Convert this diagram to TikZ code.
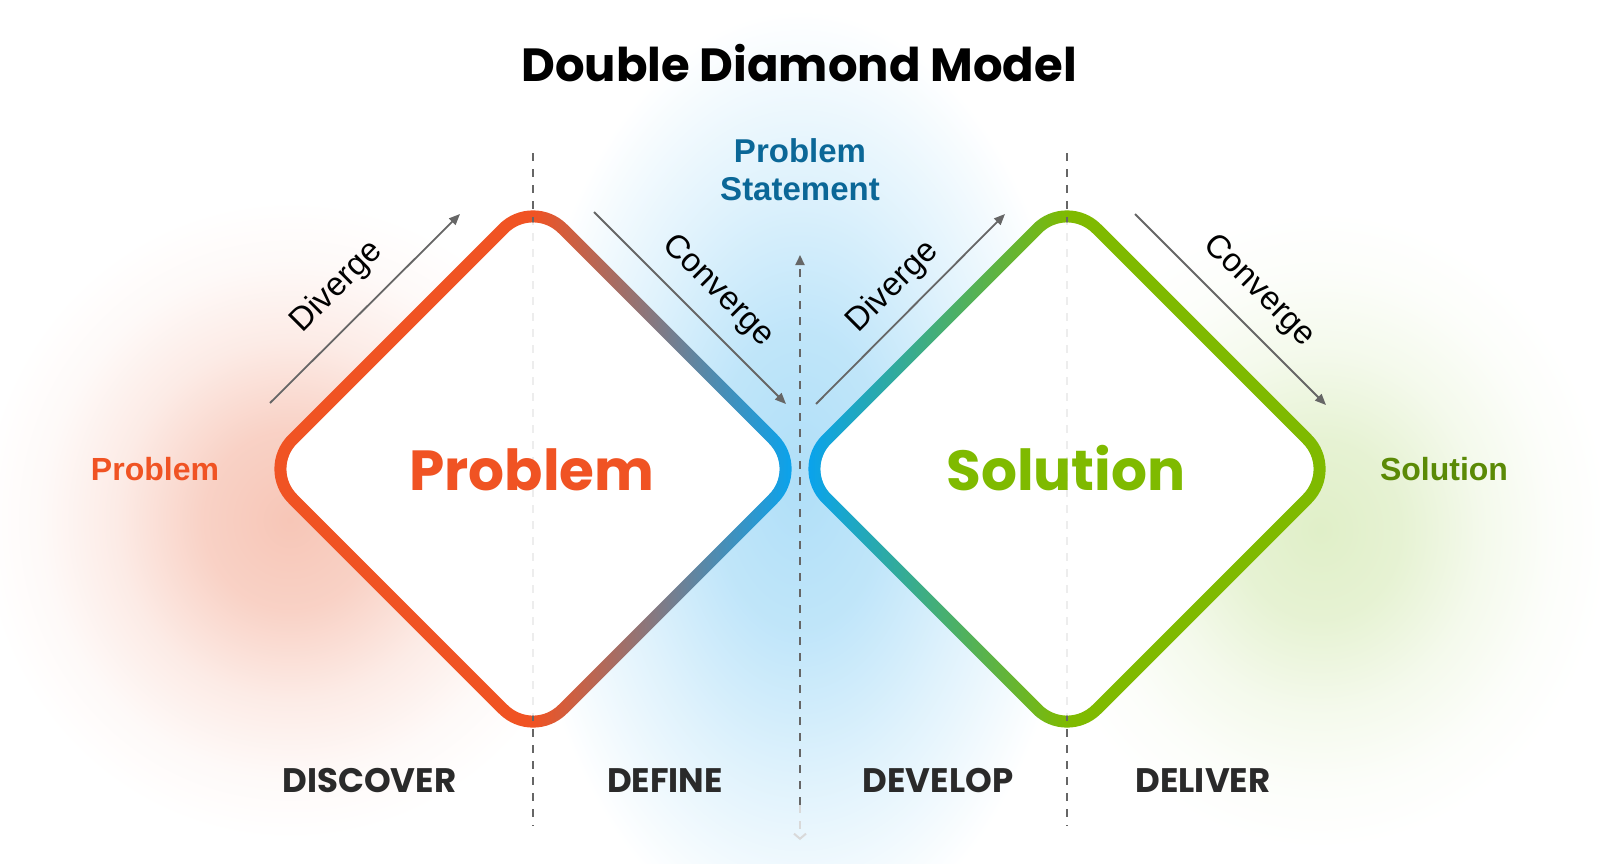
\documentclass[tikz,border=0pt]{standalone}
\usepackage{fontspec}
\setmainfont{Liberation Sans}
\newfontfamily\pop{Poppins}
\usetikzlibrary{arrows.meta}

\definecolor{orng}{HTML}{F05323}
\definecolor{sky}{HTML}{0AA3EC}
\definecolor{lime}{HTML}{7FBA00}
\definecolor{solgreen}{HTML}{5B8A06}
\definecolor{psblue}{HTML}{0B6797}
\definecolor{darktxt}{HTML}{2A2A2A}
\definecolor{linegray}{HTML}{666666}
\definecolor{glowred}{HTML}{F7C6B7}
\definecolor{glowblue}{HTML}{B0DFF8}
\definecolor{glowgreen}{HTML}{E0EFC8}

\pgfdeclareradialshading{glowR}{\pgfpoint{0bp}{0bp}}{color(0bp)=(glowred); color(7bp)=(glowred!80!white); color(14bp)=(glowred!35!white); color(20bp)=(glowred!10!white); color(25bp)=(white); color(50bp)=(white)}
\pgfdeclareradialshading{glowB}{\pgfpoint{0bp}{0bp}}{color(0bp)=(glowblue); color(8bp)=(glowblue!80!white); color(16bp)=(glowblue!40!white); color(25bp)=(white); color(50bp)=(white)}
\pgfdeclareradialshading{glowG}{\pgfpoint{0bp}{0bp}}{color(0bp)=(glowgreen); color(7bp)=(glowgreen!80!white); color(14bp)=(glowgreen!35!white); color(20bp)=(glowgreen!10!white); color(25bp)=(white); color(50bp)=(white)}

% rounded diamond: centre x, centre y, half diagonal, corner radius (clockwise on screen)
\newcommand{\rdia}[4]{(#1-#3/2,#2-#3/2)
 -- (#1-#4*0.7071,#2-#3+#4*0.7071) .. controls (#1-#4*0.3166,#2-#3+#4*0.3166) and (#1+#4*0.3166,#2-#3+#4*0.3166) .. (#1+#4*0.7071,#2-#3+#4*0.7071)
 -- (#1+#3-#4*0.7071,#2-#4*0.7071) .. controls (#1+#3-#4*0.3166,#2-#4*0.3166) and (#1+#3-#4*0.3166,#2+#4*0.3166) .. (#1+#3-#4*0.7071,#2+#4*0.7071)
 -- (#1+#4*0.7071,#2+#3-#4*0.7071) .. controls (#1+#4*0.3166,#2+#3-#4*0.3166) and (#1-#4*0.3166,#2+#3-#4*0.3166) .. (#1-#4*0.7071,#2+#3-#4*0.7071)
 -- (#1-#3+#4*0.7071,#2+#4*0.7071) .. controls (#1-#3+#4*0.3166,#2+#4*0.3166) and (#1-#3+#4*0.3166,#2-#4*0.3166) .. (#1-#3+#4*0.7071,#2-#4*0.7071)
 -- cycle}
% same, opposite direction
\newcommand{\rdiarev}[4]{(#1-#3/2,#2-#3/2)
 -- (#1-#3+#4*0.7071,#2-#4*0.7071) .. controls (#1-#3+#4*0.3166,#2-#4*0.3166) and (#1-#3+#4*0.3166,#2+#4*0.3166) .. (#1-#3+#4*0.7071,#2+#4*0.7071)
 -- (#1-#4*0.7071,#2+#3-#4*0.7071) .. controls (#1-#4*0.3166,#2+#3-#4*0.3166) and (#1+#4*0.3166,#2+#3-#4*0.3166) .. (#1+#4*0.7071,#2+#3-#4*0.7071)
 -- (#1+#3-#4*0.7071,#2+#4*0.7071) .. controls (#1+#3-#4*0.3166,#2+#4*0.3166) and (#1+#3-#4*0.3166,#2-#4*0.3166) .. (#1+#3-#4*0.7071,#2-#4*0.7071)
 -- (#1+#4*0.7071,#2-#3+#4*0.7071) .. controls (#1+#4*0.3166,#2-#3+#4*0.3166) and (#1-#4*0.3166,#2-#3+#4*0.3166) .. (#1-#4*0.7071,#2-#3+#4*0.7071)
 -- cycle}

\tikzset{
  titletxt/.style={font=\pop\bfseries\fontsize{46.5}{56}\selectfont, text=black, anchor=base, inner sep=0pt},
  bigtxt/.style={font=\pop\bfseries\fontsize{56.5}{66}\selectfont, anchor=base, inner sep=0pt},
  sidetxt/.style={font=\bfseries\fontsize{32}{38}\selectfont, anchor=base, inner sep=0pt},
  phasetxt/.style={font=\pop\bfseries\fontsize{34}{40}\selectfont, text=darktxt, anchor=base, inner sep=0pt},
  flowtxt/.style={font=\fontsize{33}{38}\selectfont, text=black, inner sep=0pt},
  flow/.style={draw=linegray, line width=1.8pt, -{Triangle[length=11pt,width=9pt]}},
  dashline/.style={line width=2pt, dash pattern=on 8pt off 8pt},
}

\begin{document}
\begin{tikzpicture}[x=1pt,y=-1pt]
\useasboundingbox (0,0) rectangle (1600,864);
\fill[white] (0,0) rectangle (1600,864);

% background glows
\begin{scope}[blend mode=multiply]
  \shade[shading=glowR] (290,520) ellipse (310 and 320);
  \shade[shading=glowB] (800,480) ellipse (280 and 470);
  \shade[shading=glowG] (1320,530) ellipse (290 and 320);
\end{scope}

% guide coordinates
\coordinate (g1t) at (533,153); \coordinate (g1b) at (533,826);
\coordinate (g2t) at (1067,153); \coordinate (g2b) at (1067,826);
\coordinate (cmt) at (800,255); \coordinate (cmm) at (800,805); \coordinate (cmb) at (800,840);

% dashed guides
\draw[dashline, linegray] (g1t) -- (g1b);
\draw[dashline, linegray] (g2t) -- (g2b);

% diamond interiors, with the guides showing faintly through
\fill[white] \rdia{533}{469}{261.5}{36};
\fill[white] \rdia{1067}{469}{261.5}{36};
\begin{scope}
  \clip \rdia{533}{469}{262}{36};
  \draw[dashline, linegray!12] (g1t) -- (g1b);
\end{scope}
\begin{scope}
  \clip \rdia{1067}{469}{262}{36};
  \draw[dashline, linegray!12] (g2t) -- (g2b);
\end{scope}

% diamond 1 stroke (gradient)
\begin{scope}
  \clip \rdia{533}{469}{278.5}{48} \rdiarev{533}{469}{261.5}{36};
  \fill[orng] (230,170) rectangle (533,770);
  \shade[left color=orng, right color=sky] (533,170) rectangle (792,770);
  \draw[dashline, linegray] (g1t) -- (g1b);
\end{scope}
% diamond 2 stroke (gradient)
\begin{scope}
  \clip \rdia{1067}{469}{278.5}{48} \rdiarev{1067}{469}{261.5}{36};
  \fill[sky] (790,170) rectangle (809,770);
  \shade[left color=sky, right color=lime] (809,170) rectangle (1067,770);
  \fill[lime] (1067,170) rectangle (1340,770);
  \draw[dashline, linegray] (g2t) -- (g2b);
\end{scope}

% central dashed arrow
\draw[dashline, linegray, -{Triangle[length=10pt,width=9pt]}] (cmm) -- (cmt);
\draw[dashline, linegray!25, -{Straight Barb[length=5pt,width=12pt]}] (cmm) -- (cmb);

% title
\node[titletxt] (title) at (799,81.5) {Double Diamond Model};

% problem statement
\node[font=\bfseries\fontsize{33}{38}\selectfont, text=psblue, align=center, inner sep=0pt] (ps) at (800,170) {Problem\\Statement};

% side labels
\node[sidetxt, text=orng] (lprob) at (155,480.5) {Problem};
\node[sidetxt, text=solgreen] (rsol) at (1444,480.5) {Solution};

% big labels
\node[bigtxt, text=orng] (bprob) at (532,490.5) {Problem};
\node[bigtxt, text=lime] (bsol) at (1066,490.5) {Solution};

% phases
\node[phasetxt] (disc) at (369.5,792.5) {DISCOVER};
\node[phasetxt] (defi) at (665,792.5) {DEFINE};
\node[phasetxt] (deve) at (938,792.5) {DEVELOP};
\node[phasetxt] (deli) at (1203,792.5) {DELIVER};

% flow arrows
\coordinate (d1s) at (270,403); \coordinate (d1e) at (460,214);
\coordinate (c1s) at (594,212); \coordinate (c1e) at (786,404);
\coordinate (d2s) at (816,404); \coordinate (d2e) at (1005,214);
\coordinate (c2s) at (1135,214); \coordinate (c2e) at (1326,405);
\draw[flow] (d1s) -- (d1e);
\draw[flow] (c1s) -- (c1e);
\draw[flow] (d2s) -- (d2e);
\draw[flow] (c2s) -- (c2e);
\node[flowtxt, rotate=45] (d1l) at (337,287) {Diverge};
\node[flowtxt, rotate=-45] (c1l) at (718,291) {Converge};
\node[flowtxt, rotate=45] (d2l) at (893,287) {Diverge};
\node[flowtxt, rotate=-45] (c2l) at (1259,291) {Converge};
\end{tikzpicture}
\end{document}
